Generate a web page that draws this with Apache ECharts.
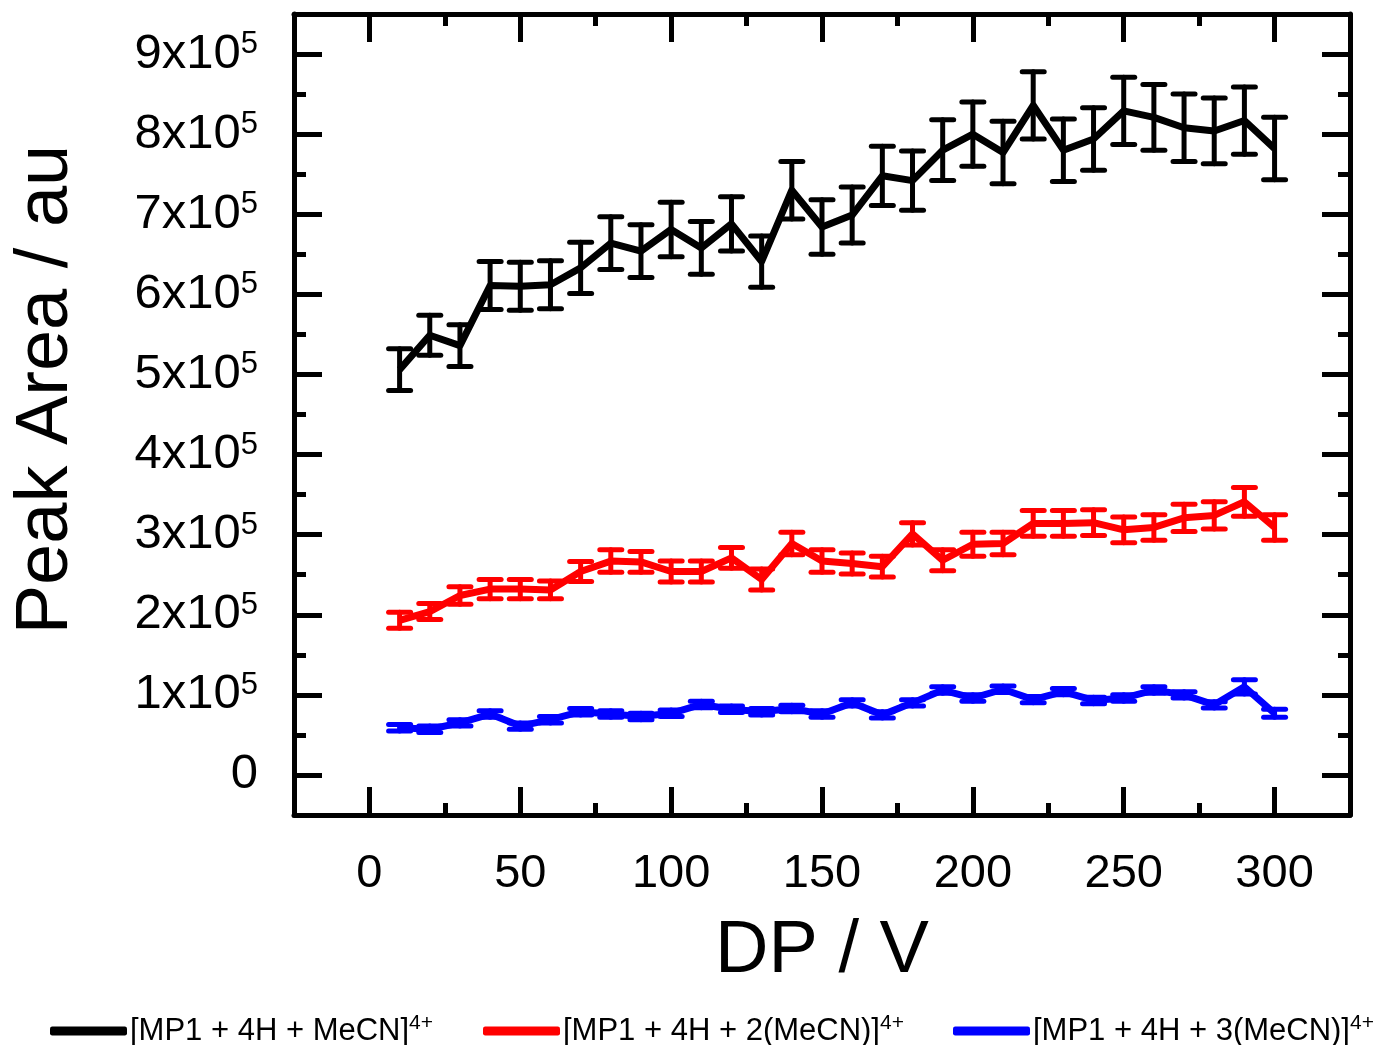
<!DOCTYPE html>
<html lang="en">

<head>
    <meta charset="UTF-8">
    <title>Peak Area vs DP</title>
    <script src="https://cdn.jsdelivr.net/npm/echarts@6/dist/echarts.min.js"></script>
    <style>
        body { margin: 0; background: #fff; }
    </style>
</head>

<body>
    <div id="main" style="width: 1378px;height:1045px;"></div>
    <script type="text/javascript">
        // DP (V)
        var dp = [10, 20, 30, 40, 50, 60, 70, 80, 90, 100, 110, 120, 130, 140, 150,
            160, 170, 180, 190, 200, 210, 220, 230, 240, 250, 260, 270, 280, 290, 300];

        // peak area, in units of 1e5
        var mecn1 = [5.06, 5.49, 5.36, 6.11, 6.10, 6.12, 6.33, 6.64, 6.54, 6.81, 6.58, 6.88, 6.41, 7.30, 6.84,
            6.99, 7.48, 7.42, 7.80, 8.00, 7.77, 8.36, 7.80, 7.94, 8.29, 8.21, 8.08, 8.04, 8.17, 7.82];
        var mecn1Err = [0.26, 0.25, 0.26, 0.30, 0.30, 0.30, 0.32, 0.33, 0.33, 0.34, 0.33, 0.34, 0.32, 0.36, 0.34,
            0.35, 0.37, 0.37, 0.38, 0.40, 0.39, 0.42, 0.39, 0.39, 0.42, 0.41, 0.42, 0.41, 0.42, 0.39];

        var mecn2 = [1.93, 2.04, 2.24, 2.32, 2.32, 2.31, 2.54, 2.67, 2.66, 2.54, 2.54, 2.71, 2.44, 2.89, 2.67,
            2.64, 2.60, 3.01, 2.68, 2.88, 2.89, 3.14, 3.14, 3.15, 3.06, 3.09, 3.21, 3.24, 3.41, 3.09];
        var mecn2Err = [0.10, 0.10, 0.11, 0.12, 0.12, 0.11, 0.125, 0.14, 0.13, 0.13, 0.13, 0.13, 0.13, 0.14, 0.14,
            0.13, 0.13, 0.14, 0.13, 0.15, 0.14, 0.16, 0.16, 0.16, 0.16, 0.16, 0.17, 0.17, 0.18, 0.16];

        var mecn3 = [0.59, 0.57, 0.65, 0.76, 0.61, 0.69, 0.79, 0.76, 0.73, 0.77, 0.88, 0.82, 0.79, 0.83, 0.76,
            0.90, 0.75, 0.90, 1.06, 0.96, 1.07, 0.94, 1.04, 0.93, 0.96, 1.06, 1.00, 0.875, 1.10, 0.77];
        var mecn3Err = [0.04, 0.04, 0.04, 0.04, 0.04, 0.04, 0.04, 0.04, 0.04, 0.04, 0.04, 0.04, 0.04, 0.04, 0.04,
            0.04, 0.04, 0.04, 0.04, 0.04, 0.04, 0.04, 0.04, 0.04, 0.04, 0.04, 0.04, 0.04, 0.09, 0.05];

        var names = ['[MP1 + 4H + MeCN]4+', '[MP1 + 4H + 2(MeCN)]4+', '[MP1 + 4H + 3(MeCN)]4+'];
        var colors = ['#000000', '#ff0000', '#0000ff'];

        // tick labels
        var xTicks = [0, 50, 100, 150, 200, 250, 300];
        var xMinor = [25, 75, 125, 175, 225, 275];
        var yTicks = [0, 1e5, 2e5, 3e5, 4e5, 5e5, 6e5, 7e5, 8e5, 9e5];
        var yMinor = [0.5e5, 1.5e5, 2.5e5, 3.5e5, 4.5e5, 5.5e5, 6.5e5, 7.5e5, 8.5e5];

        var font = 'Liberation Sans';
        var myChart = echarts.init(document.getElementById('main'));

        function lineData(vals) {
            return dp.map(function (x, i) { return [x, vals[i] * 1e5]; });
        }
        function errData(vals, errs) {
            return dp.map(function (x, i) {
                return [x, (vals[i] - errs[i]) * 1e5, (vals[i] + errs[i]) * 1e5];
            });
        }

        // error bar drawing
        function errRender(color) {
            return function (params, api) {
                var x = api.value(0);
                var lo = api.coord([x, api.value(1)]);
                var hi = api.coord([x, api.value(2)]);
                var w = 11;
                var st = { stroke: color, lineWidth: 5, lineCap: 'round' };
                return {
                    type: 'group',
                    children: [
                        { type: 'line', shape: { x1: hi[0], y1: hi[1], x2: lo[0], y2: lo[1] }, style: st },
                        { type: 'line', shape: { x1: hi[0] - w, y1: hi[1], x2: hi[0] + w, y2: hi[1] }, style: st },
                        { type: 'line', shape: { x1: lo[0] - w, y1: lo[1], x2: lo[0] + w, y2: lo[1] }, style: st }
                    ]
                };
            };
        }

        function xAxisDef(pos, ticks, len, major) {
            return {
                type: 'value', position: pos, min: -25, max: 325,
                axisLine: { show: major, onZero: false, lineStyle: { color: '#000', width: 5 } },
                axisTick: { show: true, inside: true, length: len, customValues: ticks, lineStyle: { color: '#000', width: 5 } },
                axisLabel: pos === 'bottom' && major ? {
                    show: true, customValues: ticks, margin: 36,
                    fontFamily: font, fontSize: 47, color: '#000'
                } : { show: false },
                splitLine: { show: false },
                name: pos === 'bottom' && major ? 'DP / V' : '',
                nameLocation: 'middle', nameGap: 100,
                nameTextStyle: { fontFamily: font, fontSize: 74, color: '#000' }
            };
        }
        function yAxisDef(pos, ticks, len, major) {
            return {
                type: 'value', position: pos, min: -0.5e5, max: 9.5e5,
                axisLine: { show: major, onZero: false, lineStyle: { color: '#000', width: 5 } },
                axisTick: { show: true, inside: true, length: len, customValues: ticks, lineStyle: { color: '#000', width: 5 } },
                axisLabel: pos === 'left' && major ? {
                    show: true, customValues: ticks, margin: 36,
                    formatter: function (v) {
                        if (v === 0) return '{b|0}';
                        return '{b|' + Math.round(v / 1e5) + 'x10}{s|5}';
                    },
                    rich: {
                        b: { fontFamily: font, fontSize: 49, lineHeight: 50, color: '#000' },
                        s: { fontFamily: font, fontSize: 31, lineHeight: 30, verticalAlign: 'top', color: '#000' }
                    }
                } : { show: false },
                splitLine: { show: false },
                name: pos === 'left' && major ? 'Peak Area / au' : '',
                nameLocation: 'middle', nameGap: 210,
                nameTextStyle: { fontFamily: font, fontSize: 74, color: '#000', padding: [0, 0, 0, 50] }
            };
        }

        function legendDef(i, left) {
            return {
                data: [names[i]], left: left, top: 1008,
                icon: 'roundRect', itemWidth: 77, itemHeight: 9, itemGap: 0,
                formatter: function (n) {
                    return '{b|' + n.replace('4+', '') + '}{s|4+}';
                },
                textStyle: {
                    padding: [0, 0, 0, -2],
                    rich: {
                        b: { fontFamily: font, fontSize: 31, lineHeight: 36, color: '#000' },
                        s: { fontFamily: font, fontSize: 21, lineHeight: 21, verticalAlign: 'top', color: '#000' }
                    }
                }
            };
        }

        var series = [];
        [[mecn1, mecn1Err], [mecn2, mecn2Err], [mecn3, mecn3Err]].forEach(function (s, i) {
            series.push({
                type: 'line', name: names[i], data: lineData(s[0]), showSymbol: false,
                color: colors[i], itemStyle: { color: colors[i] },
                lineStyle: { color: colors[i], width: 7, join: 'round' }, z: 3
            });
            series.push({
                type: 'custom', name: names[i], renderItem: errRender(colors[i]),
                itemStyle: { color: colors[i] },
                data: errData(s[0], s[1]), encode: { x: 0, y: [1, 2] }, z: 2, silent: true
            });
        });

        var option = {
            backgroundColor: '#fff',
            animation: false,
            color: colors,
            grid: { left: 294, top: 14, width: 1056, height: 801 },
            xAxis: [
                xAxisDef('bottom', xTicks, 28, true),
                xAxisDef('bottom', xMinor, 12, false),
                xAxisDef('top', xTicks, 28, true),
                xAxisDef('top', xMinor, 12, false)
            ],
            yAxis: [
                yAxisDef('left', yTicks, 28, true),
                yAxisDef('left', yMinor, 12, false),
                yAxisDef('right', yTicks, 28, true),
                yAxisDef('right', yMinor, 12, false)
            ],
            legend: [legendDef(0, 45), legendDef(1, 478), legendDef(2, 948)],
            series: series
        };

        myChart.setOption(option);
    </script>
</body>

</html>
